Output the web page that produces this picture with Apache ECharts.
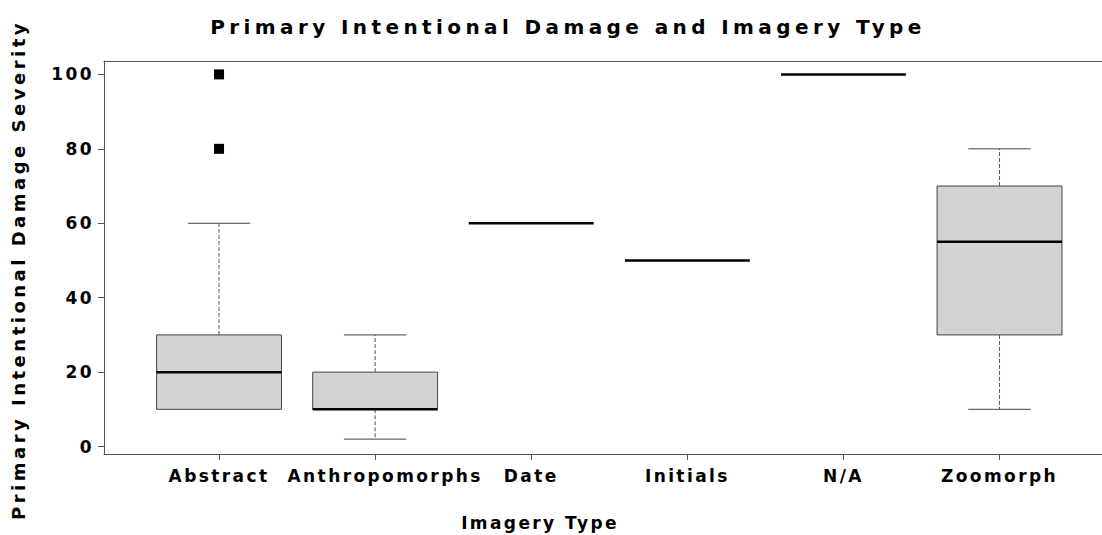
<!DOCTYPE html>
<html>
<head>
<meta charset="utf-8">
<script src="https://cdn.jsdelivr.net/npm/echarts@6/dist/echarts.min.js"></script>
<style>
  html, body { margin: 0; padding: 0; background: #fff; overflow: hidden; }
  #chart { width: 1102px; height: 535px; }
  #chart text[style*="20px"] { letter-spacing: 4.4px; }
  #chart text[style*="18px"] { letter-spacing: 3.5px; }
  #chart text[style*="17px"] { letter-spacing: 2.4px; }
</style>
</head>
<body>
<div id="chart"></div>
<script>
// ---- data ----
var categories   = ['Abstract', 'Anthropomorphs', 'Date', 'Initials', 'N/A', 'Zoomorph'];
var lowWhisker   = [10, 2, 60, 50, 100, 10];
var q1Values     = [10, 10, 60, 50, 100, 30];
var medianValues = [20, 10, 60, 50, 100, 55];
var q3Values     = [30, 20, 60, 50, 100, 70];
var highWhisker  = [60, 30, 60, 50, 100, 80];
var outlierCategory = ['Abstract', 'Abstract'];
var outlierValue    = [100, 80];
var yTicks = [0, 20, 40, 60, 80, 100];

var titleText = 'Primary Intentional Damage and Imagery Type';
var xName = 'Imagery Type';
var yName = 'Primary Intentional Damage Severity';

// ---- build series data ----
var boxData = categories.map(function (c, i) {
  return [i + 1, lowWhisker[i], q1Values[i], medianValues[i], q3Values[i], highWhisker[i]];
});
var outlierData = outlierCategory.map(function (c, i) {
  return [categories.indexOf(c) + 1, outlierValue[i]];
});
var catPositions = categories.map(function (c, i) { return i + 1; });

var FONT = "'DejaVu Sans', 'Liberation Sans', Arial, sans-serif";
var AXIS_COLOR = '#555';

var chart = echarts.init(document.getElementById('chart'), null, { renderer: 'svg' });

chart.setOption({
  animation: false,
  backgroundColor: '#fff',
  title: {
    text: titleText,
    left: 568,
    top: 17,
    padding: 0,
    textAlign: 'center',
    textStyle: { fontFamily: FONT, fontSize: 20, fontWeight: 'bold', color: '#000' }
  },
  graphic: [
    {
      type: 'text',
      x: 540, y: 523,
      style: {
        text: xName, fontFamily: FONT, fontSize: 17, fontWeight: 'bold', fill: '#000',
        textAlign: 'center', textVerticalAlign: 'middle'
      }
    },
    {
      type: 'text',
      x: 18, y: 270,
      rotation: Math.PI / 2,
      style: {
        text: yName, fontFamily: FONT, fontSize: 18, fontWeight: 'bold', fill: '#000',
        textAlign: 'center', textVerticalAlign: 'middle'
      }
    }
  ],
  grid: {
    left: 104, top: 61, width: 1100, height: 393,
    outerBoundsMode: 'none',
    containLabel: false,
    show: false
  },
  xAxis: [
    {
      type: 'value',
      position: 'bottom',
      min: 0.263,
      max: 7.31,
      splitLine: { show: false },
      axisLine: { show: true, onZero: false, lineStyle: { color: AXIS_COLOR, width: 1 } },
      axisTick: { show: true, length: 6, customValues: catPositions, lineStyle: { color: AXIS_COLOR } },
      axisLabel: {
        customValues: catPositions,
        margin: 13,
        fontFamily: FONT, fontSize: 17, fontWeight: 'bold', color: '#000',
        formatter: function (v) {
          var name = categories[Math.round(v) - 1] || '';
          return Math.round(v) === 2 ? '{shift|' + name + '}' : name;
        },
        rich: {
          shift: { fontFamily: FONT, fontSize: 17, fontWeight: 'bold', color: '#000', padding: [0, 0, 0, 20] }
        }
      }
    },
    {
      type: 'value',
      position: 'top',
      min: 0.263,
      max: 7.31,
      splitLine: { show: false },
      axisLine: { show: true, onZero: false, lineStyle: { color: AXIS_COLOR, width: 1 } },
      axisTick: { show: false },
      axisLabel: { show: false }
    }
  ],
  yAxis: {
    type: 'value',
    min: -2,
    max: 103.6,
    splitLine: { show: false },
    axisLine: { show: true, onZero: false, lineStyle: { color: AXIS_COLOR, width: 1 } },
    axisTick: { show: true, length: 6, customValues: yTicks, lineStyle: { color: AXIS_COLOR } },
    axisLabel: {
      customValues: yTicks,
      margin: 10,
      fontFamily: FONT, fontSize: 17, fontWeight: 'bold', color: '#000'
    }
  },
  series: [
    {
      type: 'custom',
      xAxisIndex: 0,
      data: boxData,
      encode: { x: 0, y: [1, 2, 3, 4, 5] },
      renderItem: function (params, api) {
        var x = api.value(0);
        var lo = api.value(1), a = api.value(2), m = api.value(3), b = api.value(4), hi = api.value(5);
        var pLo = api.coord([x, lo]);
        var pQ1 = api.coord([x, a]);
        var pM = api.coord([x, m]);
        var pQ3 = api.coord([x, b]);
        var pHi = api.coord([x, hi]);
        var unit = api.size([1, 0])[0];
        var bw = unit * 0.8, cw = unit * 0.4;
        var cx = pM[0];
        var children = [];
        var dashStyle = { stroke: '#555', lineWidth: 1, lineDash: [4, 2] };
        var capStyle = { stroke: '#444', lineWidth: 1 };
        if (hi > b) {
          children.push({ type: 'line', shape: { x1: cx, y1: pQ3[1], x2: cx, y2: pHi[1] }, style: dashStyle });
          children.push({ type: 'line', shape: { x1: cx - cw / 2, y1: pHi[1], x2: cx + cw / 2, y2: pHi[1] }, style: capStyle });
        }
        if (lo < a) {
          children.push({ type: 'line', shape: { x1: cx, y1: pQ1[1], x2: cx, y2: pLo[1] }, style: dashStyle });
          children.push({ type: 'line', shape: { x1: cx - cw / 2, y1: pLo[1], x2: cx + cw / 2, y2: pLo[1] }, style: capStyle });
        }
        if (b > a) {
          children.push({
            type: 'rect',
            shape: { x: cx - bw / 2, y: pQ3[1], width: bw, height: pQ1[1] - pQ3[1] },
            style: { fill: '#d3d3d3', stroke: '#444', lineWidth: 1 }
          });
        }
        children.push({
          type: 'line',
          shape: { x1: cx - bw / 2, y1: pM[1], x2: cx + bw / 2, y2: pM[1] },
          style: { stroke: '#000', lineWidth: 2.5 }
        });
        return { type: 'group', children: children };
      },
      z: 2
    },
    {
      type: 'scatter',
      xAxisIndex: 0,
      data: outlierData,
      symbol: 'rect',
      symbolSize: 10,
      itemStyle: { color: '#000', opacity: 1 },
      z: 3
    }
  ]
});
</script>
</body>
</html>
